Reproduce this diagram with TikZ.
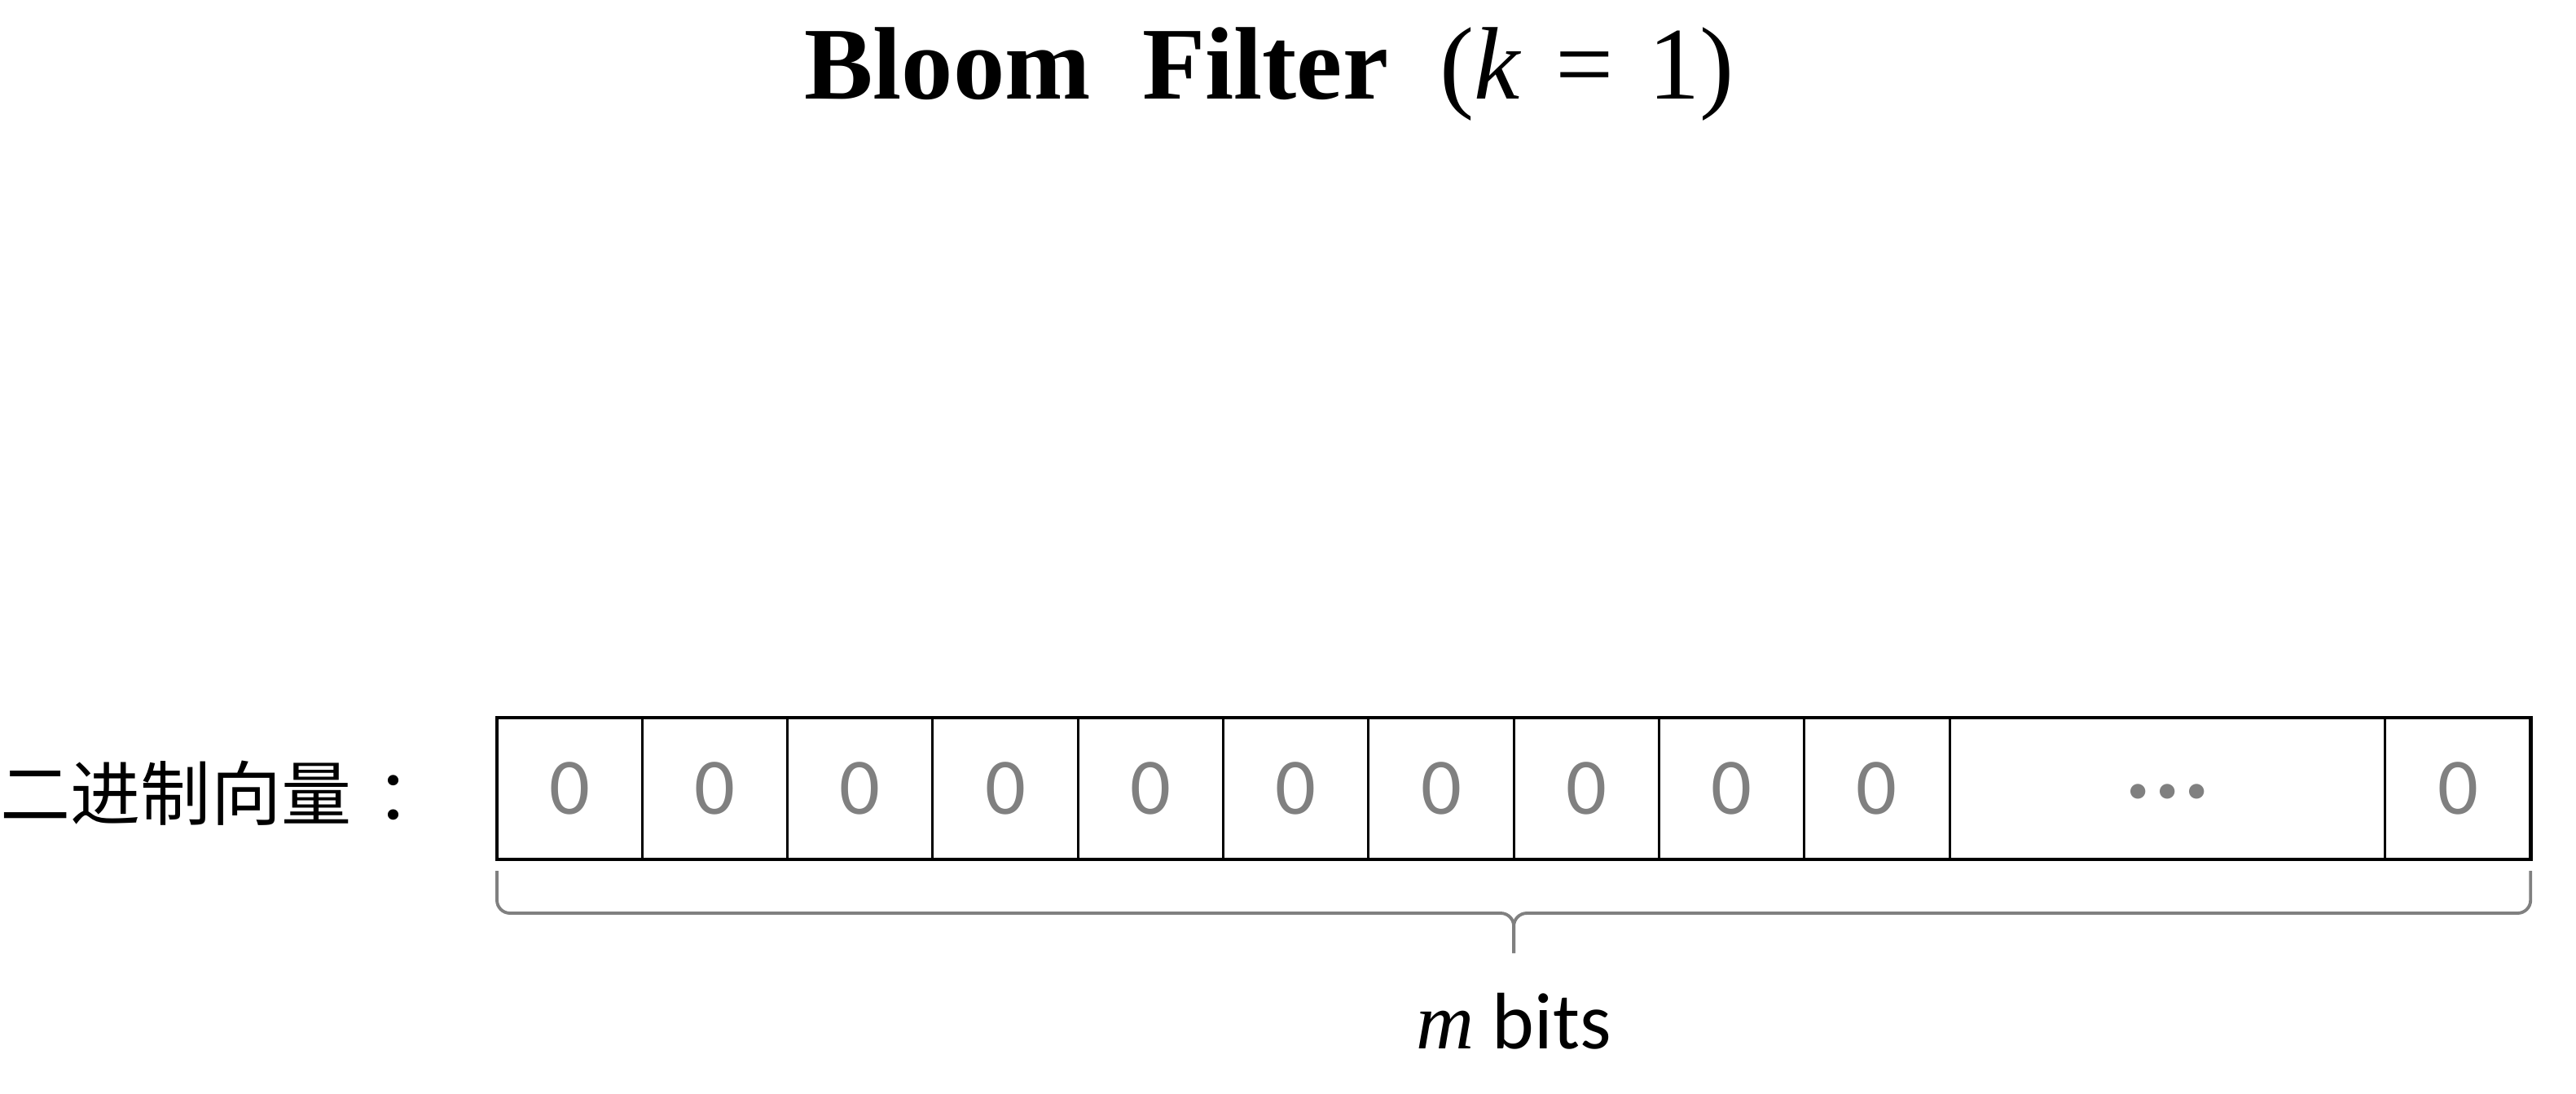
\documentclass[tikz,border=0pt]{standalone}
\usepackage{fontspec}
\setmainfont{Carlito}
\newfontfamily\titlefont{Liberation Serif}
\newfontfamily\cjk{Noto Sans CJK SC}
\usetikzlibrary{calc}
\definecolor{bitgray}{RGB}{128,128,128}

\begin{document}
\begin{tikzpicture}[
  bit/.style={draw, line width=0.85pt, minimum width=1.783cm, minimum height=1.74cm, inner sep=0pt, outer sep=0pt, anchor=north west, text=bitgray, font=\fontsize{28}{30}\selectfont},
  brc/.style={draw=bitgray, line width=1.1pt, rounded corners=0.16cm}
]
\useasboundingbox (0,0) rectangle (31.62,-13.42);
\node[anchor=base, font=\titlefont\fontsize{36}{40}\selectfont] (title) at (15.58,-1.21) {\textbf{Bloom\ \ Filter}\ \ (\textit{k}\,\,=\,\,1)};
\node[anchor=west, inner sep=0pt, font=\cjk\fontsize{24.5}{26}\selectfont] (lbl) at (0,-9.74) {二进制向量\hspace{0.35em}：};
\foreach \i in {1,...,10}
  \node[bit] (b\i) at ({6.10+(\i-1)*1.783},-8.81) {0};
\node[bit, minimum width=5.349cm] (bdots) at (b10.north east) {\vphantom{0}\textbf{·\kern0.1em·\kern0.1em·}};
\node[bit] (blast) at (bdots.north east) {0};
\draw[line width=1.3pt] (b1.north west) rectangle (blast.south east);
% brace under the vector
\coordinate (bl) at ([yshift=-1.4mm]b1.south west);
\coordinate (br) at ([yshift=-1.4mm]blast.south east);
\coordinate (btip) at ($(bl)!0.5!(br)+(0,-1.01)$);
\draw[brc] (bl) -- ++(0,-0.52) -| (btip);
\draw[brc] (br) -- ++(0,-0.52) -| (btip);
\node[anchor=base, font=\fontsize{28}{30}\selectfont] (mbits) at ([yshift=-1.17cm]btip) {{\titlefont\itshape m} bits};
\end{tikzpicture}
\end{document}
